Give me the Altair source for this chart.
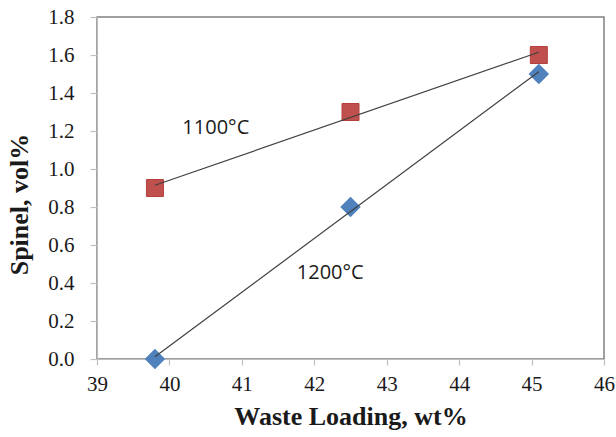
import altair as alt
import pandas as pd

waste = [39.8, 42.5, 45.1]
spinel_1100 = [0.9, 1.3, 1.6]
spinel_1200 = [0.0, 0.8, 1.5]
series = ["1100°C", "1200°C"]

label_text = ["1100°C", "1200°C"]
label_x = [40.64, 42.22]
label_y = [1.216, 0.453]

x_ticks = [39, 40, 41, 42, 43, 44, 45, 46]
y_ticks = [0, 0.2, 0.4, 0.6, 0.8, 1.0, 1.2, 1.4, 1.6, 1.8]

rows = []
for x, a, b in zip(waste, spinel_1100, spinel_1200):
    rows.append({"waste": x, "spinel": a, "temp": series[0]})
    rows.append({"waste": x, "spinel": b, "temp": series[1]})
df = pd.DataFrame(rows)
labels = pd.DataFrame({"text": label_text, "x": label_x, "y": label_y})

xscale = alt.Scale(domain=[39, 46], nice=False, zero=False)
yscale = alt.Scale(domain=[0, 1.8], nice=False, zero=False)

xax = alt.Axis(
    title="Waste Loading, wt%",
    values=x_ticks,
    format="d",
    grid=False,
    tickSize=6,
    labelPadding=8,
    labelFlush=False,
    labelOverlap=False,
    titleY=44,
    titleBaseline="top",
)
yax = alt.Axis(
    title="Spinel, vol%",
    values=y_ticks,
    format=".1f",
    grid=False,
    tickSize=7,
    labelPadding=16,
    labelFlush=False,
    labelOverlap=False,
    titleX=-65,
    titleY=187,
)


def X(field):
    return alt.X(field, scale=xscale, axis=xax)


def Y(field):
    return alt.Y(field, scale=yscale, axis=yax)


base = alt.Chart(df)

squares = base.transform_filter(alt.datum.temp == series[0]).mark_point(
    shape="square", filled=True, size=289, color="#C0504D", opacity=1,
    stroke="#B5403D", strokeWidth=1,
).encode(x=X("waste:Q"), y=Y("spinel:Q"))

diamonds = base.transform_filter(alt.datum.temp == series[1]).mark_point(
    shape="diamond", filled=True, size=420, color="#4F81BD", opacity=1,
).encode(x=X("waste:Q"), y=Y("spinel:Q"))

lines = base.transform_regression(
    "waste", "spinel", groupby=["temp"]
).mark_line(color="#404040", strokeWidth=1.2).encode(
    x=X("waste:Q"), y=Y("spinel:Q"), detail="temp:N",
)

texts = alt.Chart(labels).mark_text(
    font="Open Sans", fontSize=20, color="#1a1a1a", align="center", baseline="middle"
).encode(x=X("x:Q"), y=Y("y:Q"), text="text:N")

chart = alt.layer(squares, diamonds, lines, texts).properties(
    width=507,
    height=342,
    autosize=alt.AutoSizeParams(type="none"),
    padding={"left": 97, "top": 17, "right": 12, "bottom": 78},
    background="white",
).configure_view(
    stroke="#808080", strokeWidth=1.5
).configure_axis(
    domainColor="#BFBFBF",
    domainWidth=1.2,
    tickColor="#BFBFBF",
    tickWidth=1.2,
    labelFont="Liberation Serif",
    labelFontSize=21,
    labelColor="#1a1a1a",
    titleFont="Liberation Serif",
    titleFontSize=26,
    titleFontWeight="bold",
    titleColor="#1a1a1a",
)

chart.save("out.html", embed_options={"renderer": "svg", "actions": False})
